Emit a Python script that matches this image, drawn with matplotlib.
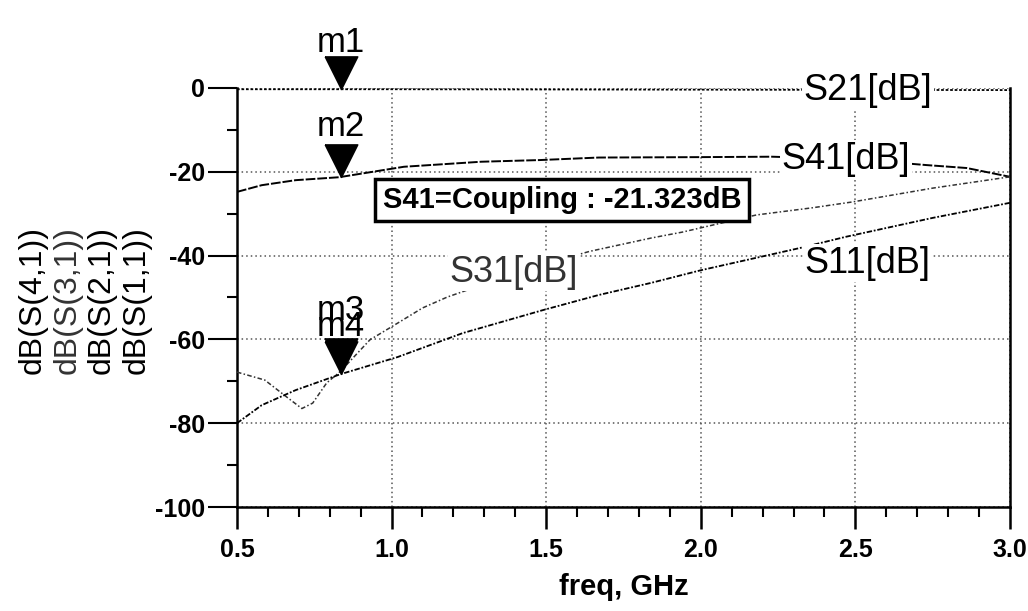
import numpy as np
import matplotlib
matplotlib.use("Agg")
import matplotlib.pyplot as plt
from matplotlib.path import Path

plt.rcParams["font.family"] = ["Liberation Sans", "DejaVu Sans"]

# ── Data (freq in GHz, values in dB) ─────────────────────────────────────────
s21_freq = [0.5, 1.0, 1.5, 2.0, 2.5, 3.0]
s21_db = [-0.3, -0.3, -0.35, -0.4, -0.45, -0.5]

s41_freq = [0.5, 0.58, 0.69, 0.83, 1.04, 1.29, 1.48, 1.67, 2.0, 2.23, 2.5, 2.73, 2.86, 3.0]
s41_db = [-24.8, -23.2, -22.0, -21.3, -18.8, -17.6, -17.2, -16.6, -16.5, -16.4, -17.0, -18.4, -19.1, -21.2]

s31_freq = [0.5, 0.59, 0.66, 0.71, 0.745, 0.79, 0.835, 0.93, 1.02, 1.1, 1.18, 1.3, 1.45,
            1.64, 1.84, 1.94, 2.18, 2.36, 2.49, 2.75, 3.0]
s31_db = [-67.8, -69.7, -73.7, -76.5, -75.2, -70.4, -67.6, -60.1, -56.1, -52.5, -49.9, -46.8, -43.0,
          -39.0, -35.8, -34.4, -30.3, -28.6, -27.2, -23.9, -21.2]

s11_freq = [0.5, 0.58, 0.69, 0.835, 1.02, 1.23, 1.49, 1.67, 1.84, 2.0, 2.32, 2.47, 2.75, 3.0]
s11_db = [-80.0, -75.7, -72.1, -68.3, -64.2, -58.5, -53.0, -49.4, -46.5, -43.5, -38.2, -35.5, -31.0, -27.4]

marker_freq = 0.835
marker_names = ["m1", "m2", "m3", "m4"]

x_ticks = [0.5, 1.0, 1.5, 2.0, 2.5, 3.0]
y_ticks = [-100, -80, -60, -40, -20, 0]
y_label_lines = ["dB(S(4,1))", "dB(S(3,1))", "dB(S(2,1))", "dB(S(1,1))"]
coupling_text = "S41=Coupling : -21.323dB"

# ── Figure ────────────────────────────────────────────────────────────────────
fig = plt.figure(figsize=(10.28, 6.11), dpi=100)
ax = fig.add_axes([0.2305, 0.1702, 0.752, 0.6858])

ax.set_xlim(0.5, 3.0)
ax.set_ylim(-100, 0)

ax.plot(s21_freq, s21_db, color="black", lw=1.3, ls=(0, (1.5, 1)), zorder=3)
ax.plot(s41_freq, s41_db, color="black", lw=1.4, ls=(0, (5, 1)), zorder=3)
ax.plot(s31_freq, s31_db, color="#333333", lw=1.1, ls=(0, (3, 1.5, 1, 1.5)), zorder=3)
ax.plot(s11_freq, s11_db, color="black", lw=1.3, ls=(0, (3, 1, 1, 1)), zorder=3)

# grid
ax.set_xticks(x_ticks)
ax.set_yticks(y_ticks)
ax.set_xticks(np.arange(0.5, 3.01, 0.1), minor=True)
ax.set_yticks(np.arange(-100, 1, 10), minor=True)
ax.grid(True, which="major", color="#555555", ls=(0, (1, 2)), lw=1.1)

ax.tick_params(axis="y", which="major", direction="out", length=21, width=1.5,
               labelsize=18, pad=2)
ax.tick_params(axis="y", which="minor", direction="out", length=7, width=1.5)
ax.tick_params(axis="x", which="major", direction="out", length=16, width=1.8,
               labelsize=18, pad=6)
ax.tick_params(axis="x", which="minor", direction="out", length=7, width=1.5)
ax.set_xticklabels([f"{t:.1f}" for t in x_ticks], fontweight="bold")
ax.set_yticklabels([str(t) for t in y_ticks], fontweight="bold")

for side in ["left", "bottom", "right"]:
    ax.spines[side].set_linewidth(1.8)
ax.spines["top"].set_visible(False)

ax.set_xlabel("freq, GHz", fontsize=21, fontweight="bold", labelpad=8)

# trace labels (white background cuts the curves / grid, like ADS)
label_box = dict(facecolor="white", edgecolor="none", pad=1)
ax.text(2.54, -0.5, "S21[dB]", fontsize=26, ha="center", va="center", bbox=label_box, zorder=4)
ax.text(2.47, -17.0, "S41[dB]", fontsize=26, ha="center", va="center", bbox=label_box, zorder=4)
ax.text(1.396, -44.0, "S31[dB]", fontsize=26, color="#333333", ha="center", va="center",
        bbox=label_box, zorder=4)
ax.text(2.54, -41.8, "S11[dB]", fontsize=26, ha="center", va="center", bbox=label_box, zorder=4)

# marker readout box
ax.text(1.551, -26.7, coupling_text, fontsize=21, fontweight="bold", ha="center", va="center",
        bbox=dict(boxstyle="square,pad=0.25", facecolor="white", edgecolor="black", lw=2.5),
        zorder=5)

# markers: filled triangles with the tip on the trace
tip_down = Path([(-0.5, 1.0), (0.5, 1.0), (0.0, 0.0), (-0.5, 1.0)])
marker_y = [
    np.interp(marker_freq, s21_freq, s21_db),
    np.interp(marker_freq, s41_freq, s41_db),
    np.interp(marker_freq, s31_freq, s31_db),
    np.interp(marker_freq, s11_freq, s11_db),
]
text_offsets = [34, 36, 44, 34]
for name, my, off in zip(marker_names, marker_y, text_offsets):
    ax.plot([marker_freq], [my], marker=tip_down, ms=47, color="black", ls="none",
            clip_on=False, zorder=6)
    ax.annotate(name, (marker_freq, my), xytext=(0, off), textcoords="offset points",
                fontsize=25, ha="center", va="center", annotation_clip=False, zorder=6)

# stacked y-axis label (one rotated line per trace)
for i, line in enumerate(y_label_lines):
    fig.text((33 + i * 34.5) / 1028, 1 - 300 / 611, line, rotation=90, fontsize=23,
             ha="center", va="center", color="#333333" if i == 1 else "black")

fig.savefig("out.png", dpi=100)
